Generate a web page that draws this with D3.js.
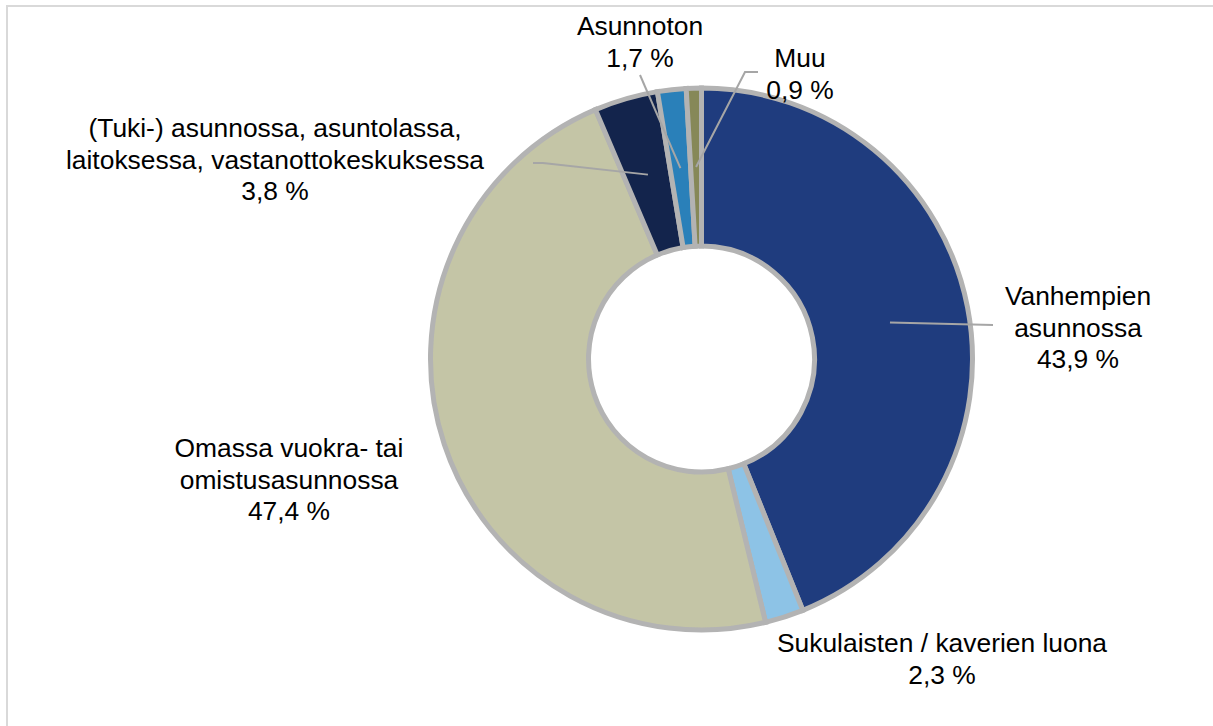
<!DOCTYPE html>
<html>
<head>
<meta charset="utf-8">
<script src="https://cdn.jsdelivr.net/npm/d3@7"></script>
<style>
  html, body { margin: 0; padding: 0; background: #fff; }
  svg { display: block; }
</style>
</head>
<body>
<script>
// data, clockwise from 12 o'clock
const categories = [
    ["Vanhempien", "asunnossa"],
    ["Sukulaisten / kaverien luona"],
    ["Omassa vuokra- tai", "omistusasunnossa"],
    ["(Tuki-) asunnossa, asuntolassa,", "laitoksessa, vastanottokeskuksessa"],
    ["Asunnoton"],
    ["Muu"]
];
const shares = [43.9, 2.3, 47.4, 3.8, 1.7, 0.9];
const colors = ["#1f3c7e", "#8dc3e6", "#c4c5a6", "#13244c", "#2a80b9", "#868858"];

// label placement (text centre x, first baseline y) and leader end points
const labelLayout = [
    { x: 1078, y: 305, leader: [[993, 325]] },
    { x: 942, y: 652, leader: null },
    { x: 289, y: 457, leader: null },
    { x: 275, y: 137, leader: [[543, 163], [533, 163]] },
    { x: 640, y: 35, leader: [[640, 75]] },
    { x: 800, y: 67, leader: [[745, 72], [758, 72]] }
];

const width = 1213;
const height = 726;
const cx = 701.5;
const cy = 359;
const outerR = 271;
const innerR = 113;
const lineH = 31.5;

const fmt = v => d3.format(".1f")(v).replace(".", ",") + " %";

const data = shares.map((v, i) => ({ name: categories[i], value: v, color: colors[i], layout: labelLayout[i] }));

const svg = d3.select("body").append("svg")
    .attr("width", width)
    .attr("height", height)
    .attr("viewBox", [0, 0, width, height]);

// chart frame
svg.append("rect")
    .attr("x", 7)
    .attr("y", 6)
    .attr("width", width + 10)
    .attr("height", height + 10)
    .attr("fill", "none")
    .attr("stroke", "#d9d9d9")
    .attr("stroke-width", 2);

const pie = d3.pie()
    .value(d => d.value)
    .sort(null);

const arc = d3.arc()
    .innerRadius(innerR)
    .outerRadius(outerR);

const arcs = pie(data);

const g = svg.append("g")
    .attr("transform", `translate(${cx},${cy})`);

g.selectAll("path")
    .data(arcs)
    .join("path")
    .attr("d", arc)
    .attr("fill", d => d.data.color)
    .attr("stroke", "#b3b3b3")
    .attr("stroke-width", 5)
    .attr("stroke-linejoin", "miter");

// leader lines from slice centroid to label
svg.append("g")
    .attr("fill", "none")
    .attr("stroke", "#a6a6a6")
    .attr("stroke-width", 2)
    .selectAll("polyline")
    .data(arcs.filter(d => d.data.layout.leader))
    .join("polyline")
    .attr("points", d => {
        const [x, y] = arc.centroid(d);
        return [[cx + x, cy + y], ...d.data.layout.leader].map(p => p.join(",")).join(" ");
    });

// labels
const label = svg.append("g")
    .attr("font-family", "'Liberation Sans', Arial, sans-serif")
    .attr("font-size", 26.4)
    .attr("fill", "#000")
    .attr("text-anchor", "middle")
    .selectAll("text")
    .data(arcs)
    .join("text")
    .attr("x", d => d.data.layout.x)
    .attr("y", d => d.data.layout.y);

label.selectAll("tspan")
    .data(d => [...d.data.name, fmt(d.data.value)].map(t => ({ t, x: d.data.layout.x })))
    .join("tspan")
    .attr("x", d => d.x)
    .attr("dy", (d, i) => i === 0 ? 0 : lineH)
    .text(d => d.t);
</script>
</body>
</html>
